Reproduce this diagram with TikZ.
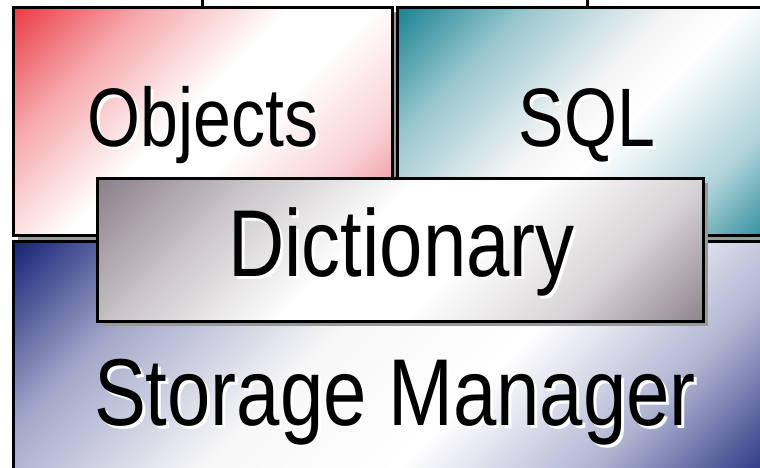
\documentclass[tikz,border=0pt]{standalone}
\usepackage{fontspec}
\newfontfamily\narrowfont[FakeStretch=0.82]{Liberation Sans}
\usetikzlibrary{shadows}

\definecolor{objred}{RGB}{234,62,70}
\definecolor{objpink}{RGB}{236,120,128}
\definecolor{sqlteal}{RGB}{30,132,148}
\definecolor{dictgrey}{RGB}{140,130,138}
\definecolor{storenavy}{RGB}{26,38,122}

\pgfdeclarehorizontalshading{objectsshade}{100bp}{color(0bp)=(objred); color(15bp)=(objred); color(30bp)=(objred!45!white); color(47bp)=(white); color(57bp)=(white); color(72bp)=(objpink!35!white); color(86bp)=(objpink); color(100bp)=(objpink)}
\pgfdeclarehorizontalshading{sqlshade}{100bp}{color(0bp)=(sqlteal); color(15bp)=(sqlteal); color(30bp)=(sqlteal!45!white); color(47bp)=(black!4); color(55bp)=(white); color(72bp)=(sqlteal!35!white); color(86bp)=(sqlteal); color(100bp)=(sqlteal)}
\pgfdeclarehorizontalshading{dictshade}{100bp}{color(0bp)=(dictgrey); color(15bp)=(dictgrey); color(30bp)=(dictgrey!45!white); color(45bp)=(white); color(57bp)=(white); color(72bp)=(dictgrey!35!white); color(86bp)=(dictgrey); color(100bp)=(dictgrey)}
\pgfdeclarehorizontalshading{storeshade}{100bp}{color(0bp)=(storenavy); color(15bp)=(storenavy); color(28bp)=(storenavy!40!white); color(44bp)=(black!3); color(58bp)=(white); color(72bp)=(storenavy!35!white); color(86bp)=(storenavy); color(100bp)=(storenavy)}

\tikzset{
  layer/.style={draw=black, line width=3pt, inner sep=0pt, outer sep=0pt,
    general shadow={fill=black!40, shadow xshift=5pt, shadow yshift=-5pt},
    shade, shading=#1, shading angle=-45},
  layertext/.style={font=\narrowfont\fontsize{#1}{#1}\selectfont, text=black, inner sep=0pt, anchor=base},
  layerglow/.style={layertext=#1, text=white},
}

\begin{document}
\begin{tikzpicture}[x=1pt,y=-1pt]
  \useasboundingbox (0,0) rectangle (760,467);
  \clip (0,0) rectangle (760,467);

  % the four layers
  \node[layer=storeshade, minimum width=764pt, minimum height=236pt] (storage) at (395,359) {};
  \node[layer=objectsshade, minimum width=379pt, minimum height=228pt] (objects) at (202.5,121) {};
  \node[layer=sqlshade, minimum width=379pt, minimum height=228pt] (sql) at (587,121) {};
  \node[layer=dictshade, minimum width=606pt, minimum height=143pt] (dictionary) at (400,249.5) {};

  % stubs coming in from above
  \coordinate (objectsIn) at (202.5,0);
  \coordinate (sqlIn) at (587,0);
  \draw[line width=3pt] (objectsIn) -- (objects.north);
  \draw[line width=3pt] (sqlIn) -- (sql.north);

  % labels, white copy first
  \node[layerglow=83] (objectsGlow) at (206,149) {Objects};
  \node[layertext=83] (objectsLbl) at (203,146) {Objects};
  \node[layerglow=83] (sqlGlow) at (590,149) {SQL};
  \node[layertext=83] (sqlLbl) at (587,146) {SQL};
  \node[layerglow=95] (dictionaryGlow) at (404.5,279) {Dictionary};
  \node[layertext=95] (dictionaryLbl) at (401.5,276) {Dictionary};
  \node[layerglow=95] (storageGlow) at (398,428) {Storage Manager};
  \node[layertext=95] (storageLbl) at (395,425) {Storage Manager};
\end{tikzpicture}
\end{document}
